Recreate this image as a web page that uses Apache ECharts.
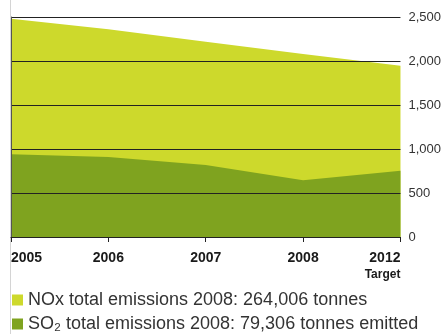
<!DOCTYPE html>
<html>
<head>
<meta charset="utf-8">
<script src="https://cdn.jsdelivr.net/npm/echarts@6/dist/echarts.min.js"></script>
<style>
  html, body { margin: 0; padding: 0; background: #fff; }
  #chart { width: 444px; height: 334px; }
</style>
</head>
<body>
<div id="chart"></div>
<script>
  // categories (years) and values
  const years = ['2005', '2006', '2007', '2008', '2012'];
  const noxValues = [2480, 2360, 2220, 2080, 1945];
  const so2Values = [940, 910, 818, 645, 752];
  const yTicks = [0, 500, 1000, 1500, 2000, 2500];

  const noxName = 'NOx total emissions 2008: 264,006 tonnes';
  const so2Name = 'SO₂ total emissions 2008: 79,306 tonnes emitted';

  const chart = echarts.init(document.getElementById('chart'));

  // one legend per row so they stack like the original
  function legendRow(name, top) {
    return {
      orient: 'vertical',
      left: 12,
      top: top,
      padding: 0,
      icon: 'rect',
      itemWidth: 11,
      itemHeight: 11,
      itemGap: 7,
      selectedMode: false,
      textStyle: { fontSize: 18, color: '#333' },
      data: [name]
    };
  }

  const option = {
    animation: false,
    textStyle: { fontFamily: 'Liberation Sans, Arial, sans-serif' },
    color: ['#cdd92c', '#7fa31f'],
    grid: { left: 11, right: 39, top: 17, bottom: 97 },
    legend: [legendRow(noxName, 291), legendRow(so2Name, 315)],
    xAxis: {
      type: 'category',
      data: years,
      boundaryGap: false,
      z: 4,
      axisLine: { lineStyle: { color: '#222', width: 1 } },
      axisTick: { length: 5, lineStyle: { color: '#222' } },
      axisLabel: {
        margin: 13,
        fontSize: 14,
        fontWeight: 'bold',
        color: '#1a1a1a',
        alignMinLabel: 'left',
        alignMaxLabel: 'right',
        formatter: function (v) {
          return v === '2012' ? '{a|2012}\n{b|Target}' : '{a|' + v + '}';
        },
        rich: {
          a: { fontSize: 14, fontWeight: 'bold', color: '#1a1a1a', lineHeight: 17 },
          b: { fontSize: 12, fontWeight: 'bold', color: '#1a1a1a', lineHeight: 15 }
        }
      }
    },
    yAxis: [{
      type: 'value',
      position: 'right',
      min: yTicks[0],
      max: yTicks[yTicks.length - 1],
      interval: 500,
      z: 4,
      axisLine: { show: false },
      axisTick: { show: false },
      splitLine: { lineStyle: { color: '#222', width: 1 } },
      axisLabel: {
        margin: 8,
        fontSize: 13,
        color: '#333',
        formatter: function (v) { return v.toLocaleString('en-US'); }
      }
    }, {
      // left frame line of the plot
      type: 'value',
      position: 'left',
      min: 0,
      max: 2500,
      z: 4,
      axisLine: { show: true, lineStyle: { color: '#555', width: 1 } },
      axisTick: { show: false },
      axisLabel: { show: false },
      splitLine: { show: false }
    }],
    graphic: [{
      type: 'line',
      z: -1,
      shape: { x1: 10.5, y1: 0, x2: 10.5, y2: 334 },
      style: { stroke: '#d4d4d4', lineWidth: 1 }
    }],
    series: [{
      name: noxName,
      type: 'line',
      data: noxValues,
      symbol: 'none',
      lineStyle: { width: 0 },
      areaStyle: { opacity: 1 }
    }, {
      name: so2Name,
      type: 'line',
      data: so2Values,
      symbol: 'none',
      lineStyle: { width: 0 },
      areaStyle: { opacity: 1 }
    }]
  };

  chart.setOption(option);
</script>
</body>
</html>
